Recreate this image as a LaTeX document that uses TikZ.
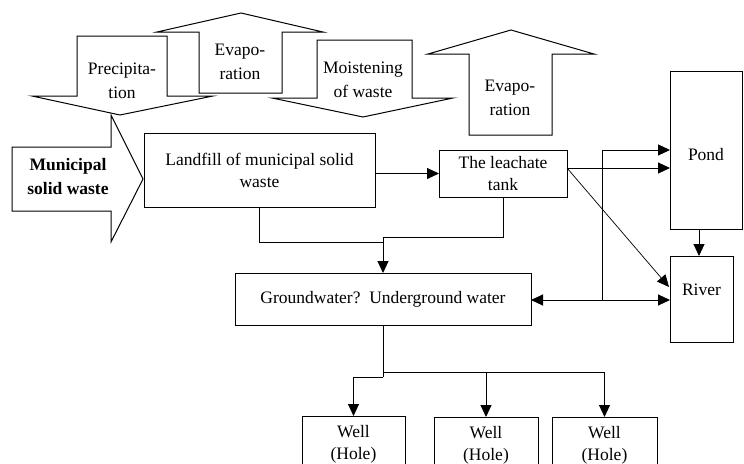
\documentclass[tikz,border=0pt]{standalone}
\usepackage{fontspec}
\setmainfont{Liberation Serif}
\usetikzlibrary{arrows.meta,calc}
\begin{document}
\begin{tikzpicture}[x=1pt,y=-1pt,line width=1pt,
  box/.style={draw,fill=white,inner sep=0pt,outer sep=0pt,align=center,font=\fontsize{17.5}{22}\selectfont},
  lbl/.style={inner sep=0pt,align=center,font=\fontsize{17.5}{24}\selectfont},
  blk/.style={draw,fill=white,line join=miter},
  arr/.style={-{Triangle[length=12pt,width=11pt]}}]
\useasboundingbox (0,0) rectangle (744,463);
% block arrows
\draw[blk] (77,36) -- (167,36) -- (167,96) -- (213,96) -- (120,115) -- (32,96) -- (77,96) -- cycle;
\draw[blk] (199,93) -- (282,93) -- (282,32) -- (323,32) -- (241,13) -- (157,32) -- (199,32) -- cycle;
\draw[blk] (317,40) -- (412,40) -- (412,98) -- (453,98) -- (363,117) -- (272,98) -- (317,98) -- cycle;
\draw[blk] (469,135) -- (552,135) -- (552,54) -- (594,54) -- (511,30) -- (428,54) -- (469,54) -- cycle;
\draw[blk] (12,147) -- (111,147) -- (111,115) -- (143,179) -- (111,242) -- (111,211) -- (12,211) -- cycle;
\node[lbl] (precip) at (122,81) {Precipita-\\tion};
\node[lbl] (evap1) at (240,62) {Evapo-\\ration};
\node[lbl] (moist) at (363,80) {Moistening\\of waste};
\node[lbl] (evap2) at (510,98) {Evapo-\\ration};
\node[lbl,font=\fontsize{17.5}{24}\selectfont\bfseries] (msw) at (68,177) {Municipal\\solid waste};
% boxes
\node[box,minimum width=231,minimum height=74] (landfill) at (259.5,170) {Landfill of municipal solid\\waste};
\node[box,minimum width=128,minimum height=47] (leach) at (503,173.5) {The leachate\\tank};
\node[box,minimum width=72,minimum height=158,text height=24pt,text depth=4pt] (pond) at (706,150) {Pond};
\node[box,minimum width=63,minimum height=86,text height=12pt,text depth=20pt] (river) at (701.5,299) {River};
\node[box,minimum width=296,minimum height=52] (gw) at (383,299) {Groundwater?\ \ Underground water};
\node[box,minimum width=103,minimum height=56] (w1) at (353.5,444) {Well\\(Hole)};
\node[box,minimum width=104,minimum height=56] (w2) at (486,445) {Well\\(Hole)};
\node[box,minimum width=105,minimum height=56] (w3) at (604.5,445) {Well\\(Hole)};
% coordinates
\coordinate (j1) at (383,237);
\coordinate (bt) at (602,150);
\coordinate (bb) at (602,300);
\coordinate (lr) at (567,168);
\coordinate (pr) at (699,229);
\coordinate (g1) at (383,377);
\coordinate (g2) at (383,372);
% connectors
\draw[arr] (landfill.east |- leach.west) -- (leach.west);
\draw (landfill.south) |- (j1 |- 0,242);
\draw (leach.south) |- (j1);
\draw[arr] (j1) -- (gw.north);
\draw[arr] (bt) -- (pond.west |- bt);
\draw (bt) -- (bb);
\draw[arr] (bb) -- (gw.east |- bb);
\draw[arr] (bb) -- (river.west |- bb);
\draw[arr] (lr) -- (pond.west |- lr);
\draw[arr,line width=0.7pt] (lr) -- ($(river.north west)+(-1,31)$);
\draw[arr] (pr) -- (river.north -| pr);
\draw (gw.south) -- (g1);
\draw[arr] (g1) -| (w1.north);
\draw[arr] (g2) -| (w2.north);
\draw[arr] (g2) -| (w3.north);
\end{tikzpicture}
\end{document}
